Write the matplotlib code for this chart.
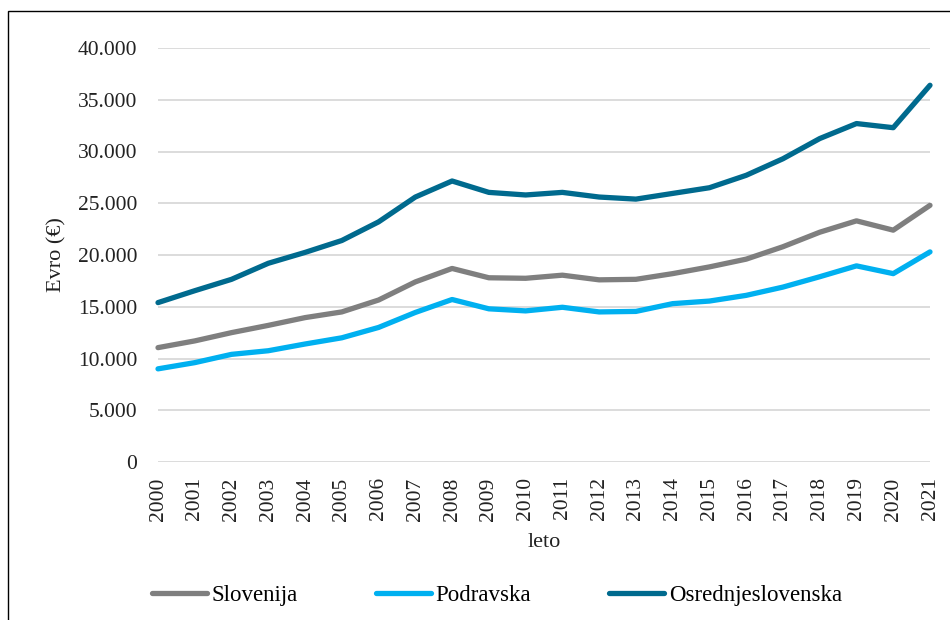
import matplotlib.pyplot as plt
from matplotlib.patches import Rectangle

years = list(range(2000, 2022))
slovenija = [11.05, 11.7, 12.5, 13.2, 13.95, 14.5, 15.65, 17.4, 18.7, 17.8, 17.75, 18.05,
             17.6, 17.65, 18.2, 18.85, 19.6, 20.8, 22.2, 23.3, 22.4, 24.8]
podravska = [9.0, 9.6, 10.4, 10.75, 11.4, 12.0, 13.0, 14.45, 15.7, 14.8, 14.6, 14.95,
             14.5, 14.55, 15.3, 15.55, 16.1, 16.9, 17.9, 18.95, 18.2, 20.3]
osrednjeslovenska = [15.4, 16.55, 17.65, 19.2, 20.25, 21.4, 23.2, 25.6, 27.15, 26.05, 25.8, 26.05,
                     25.6, 25.4, 25.95, 26.5, 27.7, 29.3, 31.25, 32.7, 32.3, 36.4]
series_names = ["Slovenija", "Podravska", "Osrednjeslovenska"]
colors = ["#7f7f7f", "#00b0f0", "#006a8e"]
yticks = [0, 5000, 10000, 15000, 20000, 25000, 30000, 35000, 40000]
ytick_labels = ["0", "5.000", "10.000", "15.000", "20.000", "25.000", "30.000", "35.000", "40.000"]

plt.rcParams['font.family'] = ['Liberation Serif', 'DejaVu Serif']

fig = plt.figure(figsize=(9.5, 6.2), dpi=100)
ax = fig.add_axes([158 / 950, 1 - 462 / 620, (930 - 158) / 950, (462 - 48) / 620])

for name, vals, c in zip(series_names, [slovenija, podravska, osrednjeslovenska], colors):
    ax.plot(years, [v * 1000 for v in vals], color=c, linewidth=3.8, label=name,
            solid_capstyle='round', solid_joinstyle='round', clip_on=False, zorder=3)

ax.set_xlim(2000, 2021)
ax.set_ylim(0, 40000)
ax.set_yticks(yticks)
ax.set_yticklabels(ytick_labels)
ax.set_xticks(years)
ax.set_xticklabels([str(y) for y in years], rotation=90)
ax.tick_params(axis='y', length=0, pad=15, labelsize=15.5, colors='#222222')
ax.tick_params(axis='x', length=0, pad=11, labelsize=15.5, colors='#222222')
ax.grid(True, axis='y', color='#d9d9d9', linewidth=1.3)
ax.set_axisbelow(True)
for s in ax.spines.values():
    s.set_visible(False)

ax.set_xlabel("leto", fontsize=16, labelpad=9, color='#222222')
ax.set_ylabel("Evro (€)", fontsize=16, labelpad=8, color='#222222')

handles, labels = ax.get_legend_handles_labels()
fig.legend(handles, labels, loc='center', bbox_to_anchor=(497 / 950, 1 - 595 / 620),
           ncol=3, frameon=False, fontsize=16.5, handlelength=2.4, handletextpad=0.2,
           columnspacing=3.4)

fig.patches.append(Rectangle((8 / 950, -0.1), 1.2, 1 - 11 / 620 + 0.1, transform=fig.transFigure,
                             fill=False, edgecolor='black', linewidth=1.0))

fig.savefig("out.png", dpi=100)
